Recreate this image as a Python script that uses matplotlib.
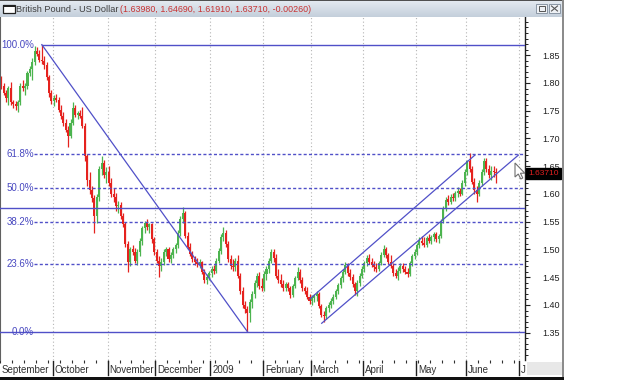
import numpy as np
import pandas as pd
import matplotlib
matplotlib.use("Agg")
import matplotlib.pyplot as plt
import matplotlib.transforms as mtransforms
from matplotlib.colors import LinearSegmentedColormap
from matplotlib.patches import Rectangle, Polygon
from matplotlib.ticker import MultipleLocator, FixedLocator

plt.rcParams['font.family'] = ['Liberation Sans', 'DejaVu Sans']

W, H = 625, 391
PX_DAY = 2.39      # pixels per trading day
X_FIRST = 1.2      # pixel centre of the first candle

# daily GBP/USD candles, 1 Sep 2008 .. 17 Jun 2009 (one row per month)
open_ = [
    1.805, 1.795, 1.782, 1.772, 1.790, 1.765, 1.762, 1.758, 1.765, 1.795, 1.790, 1.795, 1.818, 1.825, 1.838, 1.858, 1.852, 1.842, 1.840, 1.832, 1.810, 1.782,
    1.768, 1.772, 1.770, 1.752, 1.740, 1.728, 1.716, 1.705, 1.728, 1.755, 1.742, 1.745, 1.740, 1.722, 1.668, 1.625, 1.608, 1.592, 1.560, 1.595, 1.645, 1.655, 1.635,
    1.640, 1.620, 1.600, 1.595, 1.578, 1.580, 1.560, 1.545, 1.510, 1.478, 1.500, 1.495, 1.480, 1.495, 1.515, 1.538, 1.548, 1.540, 1.545, 1.518,
    1.495, 1.480, 1.470, 1.478, 1.495, 1.500, 1.482, 1.490, 1.500, 1.508, 1.530, 1.555, 1.565, 1.525, 1.505, 1.492, 1.482, 1.478, 1.474, 1.478, 1.460, 1.445, 1.450,
    1.458, 1.465, 1.462, 1.480, 1.498, 1.522, 1.530, 1.510, 1.482, 1.470, 1.468, 1.480, 1.452, 1.425, 1.400, 1.392, 1.385, 1.405, 1.420, 1.440, 1.452, 1.435,
    1.430, 1.455, 1.465, 1.480, 1.495, 1.485, 1.452, 1.445, 1.438, 1.430, 1.438, 1.430, 1.418, 1.435, 1.448, 1.460, 1.445, 1.430, 1.425, 1.415,
    1.408, 1.412, 1.416, 1.420, 1.398, 1.382, 1.380, 1.395, 1.400, 1.408, 1.415, 1.425, 1.436, 1.448, 1.460, 1.472, 1.458, 1.450, 1.438, 1.425, 1.440, 1.452,
    1.465, 1.475, 1.485, 1.478, 1.472, 1.468, 1.465, 1.476, 1.490, 1.500, 1.490, 1.478, 1.470, 1.458, 1.452, 1.462, 1.470, 1.465, 1.460, 1.456, 1.475, 1.488,
    1.495, 1.508, 1.516, 1.512, 1.508, 1.520, 1.516, 1.522, 1.528, 1.518, 1.524, 1.552, 1.574, 1.590, 1.586, 1.595, 1.592, 1.602, 1.606, 1.600, 1.620,
    1.640, 1.660, 1.645, 1.622, 1.608, 1.600, 1.620, 1.640, 1.660, 1.645, 1.635, 1.642, 1.6398,
]
high = [
    1.812, 1.800, 1.788, 1.795, 1.802, 1.770, 1.768, 1.770, 1.800, 1.805, 1.800, 1.822, 1.830, 1.845, 1.866, 1.864, 1.860, 1.869, 1.848, 1.838, 1.815, 1.788,
    1.778, 1.780, 1.775, 1.760, 1.748, 1.735, 1.722, 1.735, 1.765, 1.760, 1.750, 1.752, 1.756, 1.728, 1.672, 1.640, 1.615, 1.598, 1.600, 1.650, 1.668, 1.662, 1.648,
    1.650, 1.628, 1.610, 1.602, 1.588, 1.585, 1.565, 1.550, 1.515, 1.505, 1.508, 1.502, 1.500, 1.520, 1.542, 1.552, 1.555, 1.548, 1.548, 1.522,
    1.500, 1.488, 1.485, 1.500, 1.505, 1.505, 1.495, 1.505, 1.512, 1.535, 1.560, 1.576, 1.570, 1.532, 1.512, 1.498, 1.488, 1.485, 1.482, 1.480, 1.465, 1.455, 1.462,
    1.470, 1.472, 1.485, 1.502, 1.528, 1.540, 1.535, 1.515, 1.490, 1.482, 1.485, 1.490, 1.458, 1.432, 1.408, 1.398, 1.410, 1.425, 1.445, 1.458, 1.460, 1.448,
    1.462, 1.470, 1.485, 1.500, 1.500, 1.492, 1.465, 1.455, 1.445, 1.442, 1.442, 1.435, 1.438, 1.452, 1.468, 1.465, 1.450, 1.435, 1.432, 1.420,
    1.418, 1.420, 1.425, 1.424, 1.402, 1.390, 1.398, 1.405, 1.412, 1.420, 1.428, 1.440, 1.452, 1.465, 1.478, 1.475, 1.465, 1.456, 1.442, 1.445, 1.458, 1.470,
    1.480, 1.490, 1.492, 1.484, 1.480, 1.475, 1.480, 1.495, 1.508, 1.505, 1.494, 1.490, 1.476, 1.465, 1.468, 1.475, 1.476, 1.470, 1.466, 1.480, 1.492, 1.500,
    1.512, 1.522, 1.524, 1.522, 1.525, 1.528, 1.526, 1.532, 1.532, 1.528, 1.555, 1.578, 1.595, 1.598, 1.600, 1.602, 1.606, 1.612, 1.610, 1.625, 1.645,
    1.662, 1.674, 1.650, 1.628, 1.614, 1.625, 1.645, 1.665, 1.664, 1.652, 1.650, 1.650, 1.6469,
]
low = [
    1.790, 1.778, 1.765, 1.760, 1.760, 1.755, 1.752, 1.748, 1.760, 1.785, 1.778, 1.790, 1.812, 1.805, 1.832, 1.848, 1.838, 1.835, 1.826, 1.805, 1.775, 1.762,
    1.758, 1.765, 1.748, 1.735, 1.722, 1.712, 1.684, 1.700, 1.725, 1.738, 1.735, 1.736, 1.718, 1.660, 1.615, 1.600, 1.585, 1.530, 1.548, 1.588, 1.635, 1.628, 1.620,
    1.615, 1.595, 1.585, 1.570, 1.565, 1.555, 1.540, 1.505, 1.460, 1.470, 1.490, 1.475, 1.472, 1.488, 1.508, 1.530, 1.535, 1.530, 1.512, 1.490,
    1.475, 1.450, 1.462, 1.472, 1.488, 1.478, 1.475, 1.485, 1.494, 1.503, 1.525, 1.548, 1.520, 1.500, 1.488, 1.478, 1.472, 1.468, 1.466, 1.455, 1.440, 1.438, 1.445,
    1.450, 1.455, 1.458, 1.475, 1.492, 1.515, 1.505, 1.478, 1.465, 1.462, 1.462, 1.448, 1.420, 1.395, 1.385, 1.352, 1.370, 1.395, 1.412, 1.432, 1.428, 1.425,
    1.425, 1.445, 1.458, 1.475, 1.478, 1.448, 1.440, 1.432, 1.426, 1.425, 1.425, 1.412, 1.414, 1.430, 1.445, 1.440, 1.425, 1.420, 1.410, 1.402,
    1.400, 1.405, 1.408, 1.395, 1.378, 1.370, 1.375, 1.388, 1.395, 1.402, 1.410, 1.420, 1.430, 1.442, 1.455, 1.452, 1.445, 1.432, 1.418, 1.416, 1.435, 1.448,
    1.460, 1.470, 1.474, 1.468, 1.462, 1.460, 1.462, 1.472, 1.486, 1.485, 1.474, 1.466, 1.452, 1.448, 1.445, 1.458, 1.460, 1.455, 1.450, 1.452, 1.470, 1.482,
    1.490, 1.502, 1.508, 1.504, 1.505, 1.512, 1.510, 1.515, 1.514, 1.512, 1.520, 1.548, 1.570, 1.580, 1.582, 1.588, 1.588, 1.594, 1.596, 1.598, 1.615,
    1.635, 1.640, 1.618, 1.600, 1.585, 1.596, 1.615, 1.635, 1.640, 1.628, 1.625, 1.630, 1.6191,
]
close = [
    1.795, 1.782, 1.772, 1.790, 1.765, 1.762, 1.758, 1.765, 1.795, 1.790, 1.795, 1.818, 1.825, 1.838, 1.858, 1.852, 1.842, 1.840, 1.832, 1.810, 1.782, 1.768,
    1.772, 1.770, 1.752, 1.740, 1.728, 1.716, 1.705, 1.728, 1.755, 1.742, 1.745, 1.740, 1.722, 1.668, 1.625, 1.608, 1.592, 1.560, 1.595, 1.645, 1.655, 1.635, 1.640,
    1.620, 1.600, 1.595, 1.578, 1.580, 1.560, 1.545, 1.510, 1.478, 1.500, 1.495, 1.480, 1.495, 1.515, 1.538, 1.548, 1.540, 1.545, 1.518, 1.495,
    1.480, 1.470, 1.478, 1.495, 1.500, 1.482, 1.490, 1.500, 1.508, 1.530, 1.555, 1.565, 1.525, 1.505, 1.492, 1.482, 1.478, 1.474, 1.478, 1.460, 1.445, 1.450, 1.458,
    1.465, 1.462, 1.480, 1.498, 1.522, 1.530, 1.510, 1.482, 1.470, 1.468, 1.480, 1.452, 1.425, 1.400, 1.392, 1.385, 1.405, 1.420, 1.440, 1.452, 1.435, 1.430,
    1.455, 1.465, 1.480, 1.495, 1.485, 1.452, 1.445, 1.438, 1.430, 1.438, 1.430, 1.418, 1.435, 1.448, 1.460, 1.445, 1.430, 1.425, 1.415, 1.408,
    1.412, 1.416, 1.420, 1.398, 1.382, 1.380, 1.395, 1.400, 1.408, 1.415, 1.425, 1.436, 1.448, 1.460, 1.472, 1.458, 1.450, 1.438, 1.425, 1.440, 1.452, 1.465,
    1.475, 1.485, 1.478, 1.472, 1.468, 1.465, 1.476, 1.490, 1.500, 1.490, 1.478, 1.470, 1.458, 1.452, 1.462, 1.470, 1.465, 1.460, 1.456, 1.475, 1.488, 1.495,
    1.508, 1.516, 1.512, 1.508, 1.520, 1.516, 1.522, 1.528, 1.518, 1.524, 1.552, 1.574, 1.590, 1.586, 1.595, 1.592, 1.602, 1.606, 1.600, 1.620, 1.640,
    1.660, 1.645, 1.622, 1.608, 1.600, 1.620, 1.640, 1.660, 1.645, 1.635, 1.642, 1.6397, 1.6371,
]

title_name = "British Pound - US Dollar"
title_values = "(1.63980, 1.64690, 1.61910, 1.63710, -0.00260)"
last_label = "1.63710"

fib_levels = [0.0, 0.236, 0.382, 0.5, 0.618, 1.0]
fib_labels = ["0.0%", "23.6%", "38.2%", "50.0%", "61.8%", "100.0%"]
support_level = 1.575
# drawn trend channel, (trading-day index, price)
channel_upper = [(129.2, 1.411), (198.2, 1.670)]
channel_lower = [(134.1, 1.367), (216.4, 1.670)]

price_ticks = [1.35, 1.40, 1.45, 1.50, 1.55, 1.60, 1.65, 1.70, 1.75, 1.80, 1.85]
month_labels = ["September", "October", "November", "December", "2009", "February",
                "March", "April", "May", "June", "J"]

BLUE = "#5050c8"
LABEL_BLUE = "#4848c0"
GREEN = "#4cb44f"
RED = "#e5221e"

o = np.array(open_)
h = np.array(high)
l = np.array(low)
c = np.array(close)
n = len(c)
axis_days = pd.bdate_range("2008-09-01", "2009-07-31")


def box(x0, y0, x1, y1):
    return [x0 / W, 1 - y1 / H, (x1 - x0) / W, (y1 - y0) / H]


fig = plt.figure(figsize=(W / 100, H / 100), dpi=100)
fig.patch.set_facecolor("white")

ax = fig.add_axes(box(0, 17, 525, 360))
xmin, xmax = (0 - X_FIRST) / PX_DAY, (525 - X_FIRST) / PX_DAY
ax.set_xlim(xmin, xmax)
ax.set_ylim(1.35 - (360 - 332.7) / 555, 1.35 + (332.7 - 17) / 555)
ax.set_facecolor("white")

# month grid
months = axis_days.to_period("M")
month_start = [0] + [i for i in range(1, len(axis_days)) if months[i] != months[i - 1]]
bounds = [i - 0.5 for i in month_start]
for b in bounds[1:]:
    ax.axvline(b, color="#b5b5b5", lw=0.8, ls=(0, (1, 2.2)), zorder=1)

# candles
xs = np.arange(n)
cols = np.where(c >= o, GREEN, RED)
ax.vlines(xs, l, h, colors=cols, lw=0.9, zorder=2)
ax.bar(xs, np.maximum(np.abs(c - o), 0.002), bottom=np.minimum(o, c), width=0.85,
       color=cols, linewidth=0, zorder=2)

# fibonacci retracement
i_hi, i_lo = int(np.argmax(h)), int(np.argmin(l))
p_hi, p_lo = h[i_hi], l[i_lo]
x_lab = (34 - X_FIRST) / PX_DAY
for f, lab in zip(fib_levels, fib_labels):
    p = p_lo + f * (p_hi - p_lo)
    if f == 1.0:
        ax.plot([i_hi, xmax], [p, p], color=BLUE, lw=1.0, zorder=3)
    elif f == 0.0:
        ax.plot([xmin, xmax], [p, p], color=BLUE, lw=1.0, zorder=3)
    else:
        ax.plot([x_lab, xmax], [p, p], color=BLUE, lw=1.0, ls=(0, (2.2, 1.6)), zorder=3)
    ax.text(x_lab, p, lab, ha="right", va="center", color=LABEL_BLUE, fontsize=7, zorder=4)
ax.plot([i_hi, i_lo], [p_hi, p_lo], color=BLUE, lw=0.9, zorder=3)
ax.axhline(support_level, color=BLUE, lw=1.0, zorder=3)
for line in (channel_upper, channel_lower):
    ax.plot([q[0] for q in line], [q[1] for q in line], color=BLUE, lw=0.9, zorder=3)

# axes frame
for side in ("top", "bottom"):
    ax.spines[side].set_visible(False)
ax.spines["left"].set_color("#606060")
ax.spines["right"].set_color("#202020")
ax.spines["right"].set_linewidth(1.0)

# price axis
ax.yaxis.tick_right()
ax.yaxis.set_major_locator(FixedLocator(price_ticks))
ax.yaxis.set_minor_locator(MultipleLocator(0.01))
ax.set_yticklabels([f"{t:.2f}" for t in price_ticks])
ax.tick_params(axis="y", which="major", direction="out", length=3.6, width=0.8,
               pad=9, labelsize=6.5, colors="#202020")
ax.tick_params(axis="y", which="minor", direction="out", length=2.0, width=0.7, colors="#202020")

# time axis
mondays = [i - 0.5 for i, d in enumerate(axis_days) if d.weekday() == 0 and i < xmax]
ax.set_xticks([])
ax.xaxis.set_minor_locator(FixedLocator(mondays))
ax.tick_params(axis="x", which="minor", direction="out", length=2.2, width=0.8, color="#303030")
blend = mtransforms.blended_transform_factory(ax.transData, ax.transAxes)
axh = 343.0
for k, (b, lab) in enumerate(zip(bounds, month_labels)):
    if k > 0:
        ax.plot([b, b], [-1 / axh, -15 / axh], transform=blend, clip_on=False,
                color="#202020", lw=1.0)
    ax.text(b + 0.8, -10 / axh, lab, transform=blend, ha="left", va="center",
            fontsize=7, color="#303030", clip_on=False)

# last price tag
tag = mtransforms.blended_transform_factory(ax.transAxes, ax.transData)
ax.text(1.006, c[-1], last_label, transform=tag, ha="left", va="center", fontsize=6,
        color="#e02020", clip_on=False, zorder=6,
        bbox=dict(boxstyle="square,pad=0.25", fc="black", ec="black"))

# title bar
tb = fig.add_axes(box(0, 1, 563, 17))
grad = np.linspace(0, 1, 32).reshape(-1, 1)
cmap = LinearSegmentedColormap.from_list("bar", ["#e3e9f0", "#c4cfdb"])
tb.imshow(grad, aspect="auto", cmap=cmap, extent=[0, 563, 17, 1])
tb.set_xlim(0, 563)
tb.set_ylim(17, 1)
tb.axis("off")
tb.add_patch(Rectangle((3, 5), 12, 8, fc="white", ec="#202020", lw=0.9))
tb.add_patch(Rectangle((3, 5), 12, 1.6, fc="#202020", ec="none"))
name_txt = tb.text(16, 9, title_name, fontsize=6.6, color="#404040", va="center", ha="left")
fig.canvas.draw()
bb = name_txt.get_window_extent()
x_red = tb.transData.inverted().transform((bb.x1 + 2, 0))[0]
tb.text(x_red, 9, title_values, fontsize=6.4, color="#c83232", va="center", ha="left")
for bx in (536, 549):
    tb.add_patch(Rectangle((bx, 4), 11, 9, fc="#eef1f5", ec="#8a96a4", lw=0.7))
tb.add_patch(Rectangle((538.5, 6), 6, 5, fc="none", ec="#555555", lw=0.7))
tb.plot([551.5, 557.5], [6, 11], color="#555555", lw=0.8)
tb.plot([551.5, 557.5], [11, 6], color="#555555", lw=0.8)

# window chrome
ov = fig.add_axes([0, 0, 1, 1])
ov.set_xlim(0, W)
ov.set_ylim(H, 0)
ov.axis("off")
ov.add_patch(Rectangle((0, 0), 563, 1.3, fc="#505050", ec="none"))
ov.add_patch(Rectangle((0, 16.6), 563, 0.7, fc="#9aa6b4", ec="none"))
ov.add_patch(Rectangle((527, 362), 35, 13, fc="#e8e8e8", ec="none"))
ov.add_patch(Rectangle((561.5, 0), 2, 380, fc="#8c8c8c", ec="none"))
ov.add_patch(Rectangle((0, 376.5), 564, 3.5, fc="#111111", ec="none"))
ov.add_patch(Polygon([(515, 163), (515, 177), (518.3, 174), (520.8, 179), (522.8, 178),
                      (520.4, 173.2), (524.8, 173.2)], closed=True,
                     fc="white", ec="#707070", lw=0.8))

fig.savefig("out.png", dpi=100)
